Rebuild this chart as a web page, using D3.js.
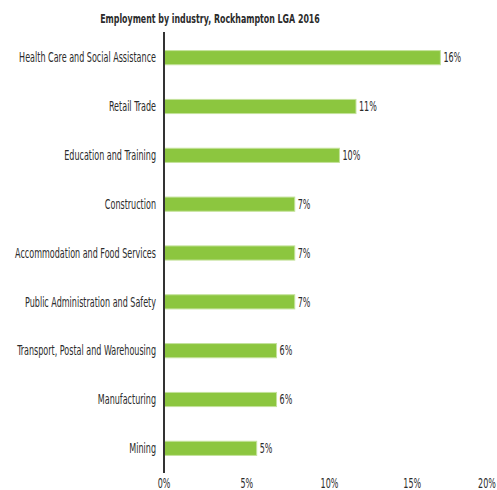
<!DOCTYPE html>
<html><head><meta charset="utf-8">
<script src="https://cdn.jsdelivr.net/npm/d3@7/dist/d3.min.js"></script>
<style>
html,body{margin:0;padding:0;background:#fff;}
text{font-family:"Liberation Sans Narrow","DejaVu Sans Condensed","Open Sans",sans-serif;fill:#2b2b2b;}
</style></head>
<body>
<svg id="chart" width="497" height="490"></svg>
<script>
const title = "Employment by industry, Rockhampton LGA 2016";
const categories = ["Health Care and Social Assistance","Retail Trade","Education and Training","Construction","Accommodation and Food Services","Public Administration and Safety","Transport, Postal and Warehousing","Manufacturing","Mining"];
const values = [16.7, 11.6, 10.6, 7.9, 7.9, 7.9, 6.8, 6.8, 5.6];
const valueLabels = ["16%","11%","10%","7%","7%","7%","6%","6%","5%"];
const ticks = [0, 5, 10, 15, 20];
const tickLabels = ["0%","5%","10%","15%","20%"];

const svg = d3.select("#chart");
const x = d3.scaleLinear().domain([0, 20]).range([164, 495]);
const y = d3.scaleBand().domain(categories).range([33, 473]).paddingInner(0.71).paddingOuter(0.36);
const fs = 13.5;

// measure compression factor so the longest category label spans ~137px
const probe = svg.append("text").attr("font-size", fs).text(categories[0]);
const k = 137 / probe.node().getComputedTextLength();
probe.remove();

function narrowText(g, px, py, str, anchor, size, weight, kk) {
  const t = g.append("g").attr("transform", `translate(${px},${py}) scale(${kk},1)`)
    .append("text").attr("text-anchor", anchor).attr("font-size", size).attr("dy", "0.35em").text(str);
  if (weight) t.attr("font-weight", weight);
  return t;
}

const probe2 = svg.append("text").attr("font-size", 12.5).attr("font-weight", "bold").text(title);
const kt = 220 / probe2.node().getComputedTextLength();
probe2.remove();
narrowText(svg, 210, 19, title, "middle", 12.5, "bold", kt);

svg.selectAll("rect.bar").data(categories).join("rect").attr("class","bar")
  .attr("x", x(0)).attr("y", d => y(d))
  .attr("width", (d,i) => x(values[i]) - x(0)).attr("height", y.bandwidth())
  .attr("fill", "#8cc63f").attr("stroke", "#c4e29b").attr("stroke-width", 1);

categories.forEach((c, i) => {
  const cy = y(c) + y.bandwidth()/2;
  narrowText(svg, 156, cy, c, "end", fs, null, k);
  narrowText(svg, x(values[i]) + 3, cy, valueLabels[i], "start", fs, null, k);
});

svg.append("line").attr("x1", x(0)).attr("x2", x(0)).attr("y1", 32).attr("y2", 473)
  .attr("stroke", "#333").attr("stroke-width", 2);

ticks.forEach((t, i) => {
  narrowText(svg, Math.min(x(t), 487), 483, tickLabels[i], "middle", fs, null, k);
});
</script>
</body></html>
